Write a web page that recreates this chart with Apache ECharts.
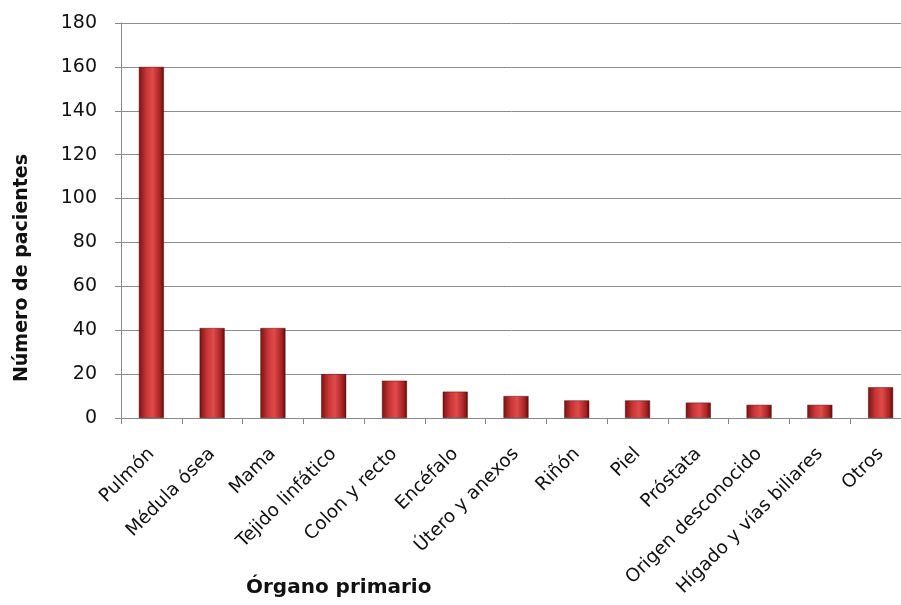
<!DOCTYPE html>
<html lang="es">
<head>
    <meta charset="UTF-8">
    <title>Órgano primario</title>
    <style>body{margin:0;background:#fff;}</style>
</head>
<body>
    <div id="chart" style="width:901px;height:605px;"></div>
</body>
</html>
<script src="https://cdn.jsdelivr.net/npm/echarts@6/dist/echarts.min.js"></script>
<script type="text/javascript">
    const organos = ['Pulmón', 'Médula ósea', 'Mama', 'Tejido linfático', 'Colon y recto', 'Encéfalo',
        'Útero y anexos', 'Riñón', 'Piel', 'Próstata', 'Origen desconocido', 'Hígado y vías biliares', 'Otros'];
    const pacientes = [160, 41, 41, 20, 17, 12, 10, 8, 8, 7, 6, 6, 14];

    const chart = echarts.init(document.getElementById('chart'));

    const barColor = new echarts.graphic.LinearGradient(0, 0, 1, 0, [
        {offset: 0, color: '#7a1212'},
        {offset: 0.3, color: '#c93636'},
        {offset: 0.55, color: '#e04a4a'},
        {offset: 0.85, color: '#a82222'},
        {offset: 1, color: '#5e0c0c'}
    ]);

    const font = 'DejaVu Sans';

    // the plot area runs a little past the right edge of the picture
    chart.setOption({
        animation: false,
        textStyle: {fontFamily: font},
        grid: {left: 121, width: 790, top: 23, bottom: 187, outerBoundsMode: 'none'},
        graphic: [
            {
                type: 'text', left: 246, top: 578,
                style: {text: 'Órgano primario', fontSize: 20, fontWeight: 'bold', fill: '#111', fontFamily: font}
            },
            {
                type: 'text', x: 22, y: 268, rotation: Math.PI / 2,
                style: {text: 'Número de pacientes', fontSize: 19, fontWeight: 'bold', fill: '#111', fontFamily: font,
                    align: 'center', verticalAlign: 'middle'}
            }
        ],
        xAxis: {
            type: 'category',
            data: organos,
            axisLine: {lineStyle: {color: '#888'}},
            axisTick: {show: true, length: 6, lineStyle: {color: '#888'}},
            axisLabel: {rotate: 45, fontSize: 18.5, color: '#111', margin: 33, interval: 0, fontFamily: font}
        },
        yAxis: {
            type: 'value',
            min: 0, max: 180, interval: 20,
            axisLine: {show: true, lineStyle: {color: '#888'}},
            axisTick: {show: true, length: 6, lineStyle: {color: '#888'}},
            axisLabel: {fontSize: 19, color: '#111', margin: 24, fontFamily: font},
            splitLine: {lineStyle: {color: '#8c8c8c'}}
        },
        series: [{
            type: 'bar',
            data: pacientes,
            barWidth: 25,
            itemStyle: {color: barColor, borderColor: '#5a0c0c', borderWidth: 0.5}
        }]
    });
</script>
